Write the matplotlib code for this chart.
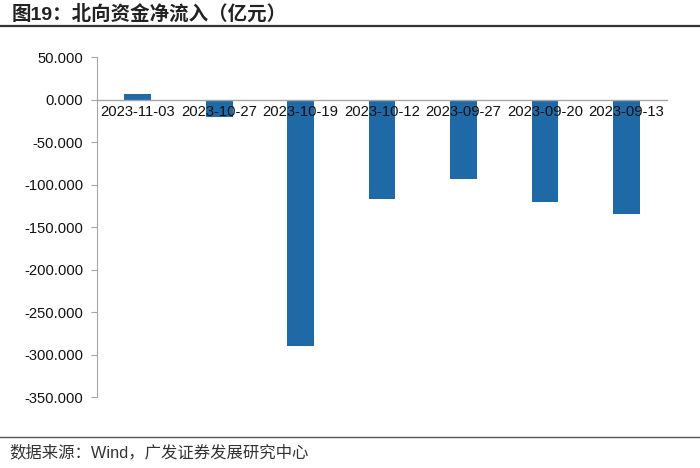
import numpy as np
import matplotlib.pyplot as plt
from matplotlib.lines import Line2D
from matplotlib.ticker import FormatStrFormatter

plt.rcParams['font.family'] = ['Liberation Sans', 'Noto Sans CJK SC', 'DejaVu Sans']

# data (亿元)
dates = ['2023-11-03', '2023-10-27', '2023-10-19', '2023-10-12',
         '2023-09-27', '2023-09-20', '2023-09-13']
net_inflow = [6.5, -21.0, -289.5, -117.5, -94.0, -120.8, -134.5]
y_ticks = np.arange(-350, 51, 50)

title = '图19：北向资金净流入（亿元）'
source = '数据来源：Wind，广发证券发展研究中心'

bar_color = '#1f69a6'
axis_gray = '#a6a6a6'

fig = plt.figure(figsize=(7.0, 4.68), dpi=100)
ax = fig.add_axes([0.1386, 0.1517, 0.8144, 0.7265])

x = np.arange(len(dates))
ax.bar(x, net_inflow, width=0.33, color=bar_color, zorder=1)

ax.set_xlim(-0.5, len(dates) - 0.5)
ax.set_ylim(-350, 50)
ax.set_yticks(y_ticks)
ax.yaxis.set_major_formatter(FormatStrFormatter('%.3f'))
ax.tick_params(axis='y', length=4, width=0.8, color=axis_gray,
               labelsize=10.6, labelcolor='#111111', pad=6)

# category axis sits on the zero line
ax.spines['bottom'].set_position(('data', 0))
ax.spines['bottom'].set_color(axis_gray)
ax.spines['bottom'].set_linewidth(1.0)
ax.spines['left'].set_color(axis_gray)
ax.spines['left'].set_linewidth(0.8)
ax.spines['top'].set_visible(False)
ax.spines['right'].set_visible(False)
ax.set_xticks(x)
ax.set_xticklabels(dates)
ax.tick_params(axis='x', length=0, labelsize=10.6, labelcolor='#111111', pad=4)

# header and footer
fig.text(0.016, 1 - 14 / 468, title, fontsize=14, fontweight='bold', color='#222222',
         va='center', ha='left')
fig.add_artist(Line2D([0, 1], [1 - 26 / 468, 1 - 26 / 468], color='#333333', lw=1.6))
fig.add_artist(Line2D([0, 1], [1 - 437 / 468, 1 - 437 / 468], color='#555555', lw=1.0))
fig.text(0.013, 1 - 453 / 468, source, fontsize=11.8, color='#333333',
         va='center', ha='left')

fig.savefig('out.png', dpi=100)
